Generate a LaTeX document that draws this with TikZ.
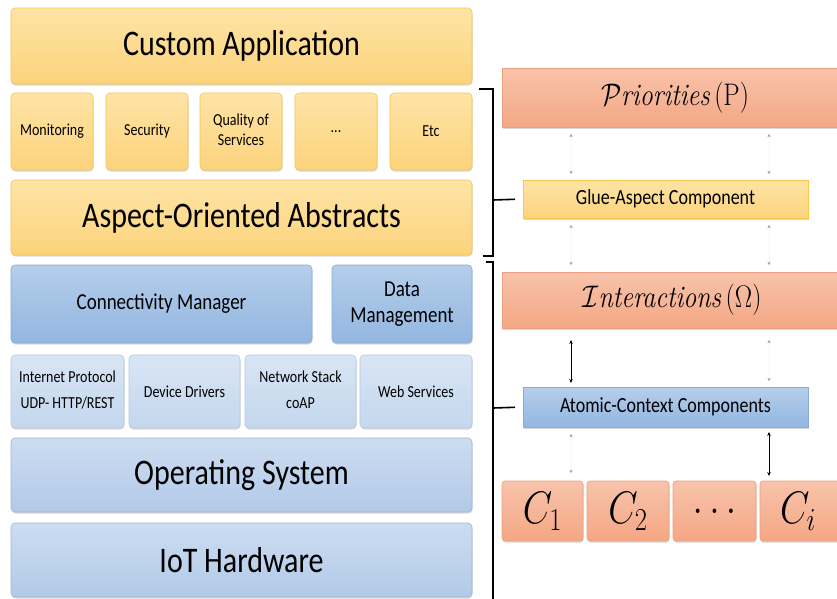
\RequirePackage{fix-cm}
\documentclass[tikz,border=0pt]{standalone}
\usepackage{fontspec}
\newfontfamily\calib{Carlito}
\usetikzlibrary{shadows,arrows.meta}

% palette
\definecolor{ytop}{HTML}{FEE4A6}
\definecolor{ybot}{HTML}{FCD37C}
\definecolor{yline}{HTML}{F7C64A}
\definecolor{stop}{HTML}{F8C3AB}
\definecolor{sbot}{HTML}{F4A784}
\definecolor{sline}{HTML}{E9A080}
\definecolor{btop}{HTML}{B5CEEB}
\definecolor{bbot}{HTML}{93B6E0}
\definecolor{bline}{HTML}{86ACD9}
\definecolor{ltop}{HTML}{D8E5F4}
\definecolor{lbot}{HTML}{C4D7EE}
\definecolor{lline}{HTML}{B3C9E4}
\definecolor{otop}{HTML}{CCDDF1}
\definecolor{obot}{HTML}{B2C9E8}
\definecolor{oline}{HTML}{9DB6D6}

% slightly stretched lettering
\newcommand\tall[1]{\scalebox{1}[1.2]{#1}}
\newcommand\twoline[2]{\begin{tabular}{@{}c@{}}#1\\#2\end{tabular}}
% box from its corners: name, style, x1, y1, x2, y2, text
\newcommand\blk[7]{\node[#2, minimum width={#5-#3}, minimum height={#6-#4}] (#1) at ({(#3+#5)/2},{(#4+#6)/2}) {#7};}

\tikzset{
  layer/.style={draw, rectangle, rounded corners=4, inner sep=0pt, outer sep=0pt,
    line width=0.6pt, text=black,
    drop shadow={shadow xshift=0.5pt, shadow yshift=-1.5pt, opacity=0.3}},
  yel/.style={layer, top color=ytop, bottom color=ybot, draw=yline},
  blu/.style={layer, top color=btop, bottom color=bbot, draw=bline},
  lblu/.style={layer, top color=ltop, bottom color=lbot, draw=lline},
  oblu/.style={layer, top color=otop, bottom color=obot, draw=oline},
  sal/.style={layer, top color=stop, bottom color=sbot, draw=sline},
  flat/.style={rounded corners=0},
  big/.style={font=\calib\fontsize{30}{36}\selectfont},
  mid/.style={font=\calib\fontsize{19}{22}\selectfont},
  small/.style={font=\calib\fontsize{14}{17}\selectfont},
  lbl/.style={font=\calib\fontsize{18}{21}\selectfont},
  scr/.style={font=\fontsize{26}{30}\selectfont},
  cee/.style={font=\fontsize{38}{42}\selectfont},
  solidarr/.style={{Stealth[length=4pt,width=3.5pt]}-{Stealth[length=4pt,width=3.5pt]}, line width=0.7pt},
  faintarr/.style={draw=black!3, line width=0.3pt,
    {Stealth[length=3pt,width=3pt,black!40]}-{Stealth[length=3pt,width=3pt,black!40]}},
  bracket/.style={line width=1.6pt, line cap=butt}
}

\begin{document}
\begin{tikzpicture}[x=1pt, y=-1pt]
\useasboundingbox (0,0) rectangle (837,598);
\clip (0,0) rectangle (837,598);
\fill[white] (0,0) rectangle (837,598);

% ---------- layered architecture ----------
\blk{app}{yel,big}{11}{8}{472}{84}{\tall{Custom Application}}
\blk{mon}{yel,small}{11}{93}{93}{170}{\tall{Monitoring}}
\blk{sec}{yel,small}{106}{93}{188}{170}{\tall{Security}}
\blk{qos}{yel,small}{200}{93}{282}{170}{\tall{\twoline{Quality of}{Services}}}
\blk{more}{yel,small}{295}{93}{377}{170}{\tall{...}}
\blk{etc}{yel,small}{390}{93}{472}{170}{\tall{Etc}}
\blk{aoa}{yel,big}{11}{180}{472}{255}{\tall{Aspect-Oriented Abstracts}}

\blk{conn}{blu,mid}{11}{265}{312}{343}{\tall{Connectivity Manager}}
\blk{data}{blu,mid}{332}{265}{472}{343}{\tall{\twoline{Data}{Management}}}

\blk{ip}{lblu,small}{11}{355}{124}{428}{\tall{\begin{tabular}{@{}c@{}}Internet Protocol\\[5pt]UDP- HTTP/REST\end{tabular}}}
\blk{dd}{lblu,small}{129}{355}{240}{428}{\tall{Device Drivers}}
\blk{ns}{lblu,small}{245}{355}{356}{428}{\tall{\begin{tabular}{@{}c@{}}Network Stack\\[5pt]coAP\end{tabular}}}
\blk{ws}{lblu,small}{360}{355}{472}{428}{\tall{Web Services}}

\blk{os}{oblu,big}{11}{438}{472}{512}{\tall{Operating System}}
\blk{hw}{oblu,big}{11}{523}{472}{597}{\tall{IoT Hardware}}

% ---------- aspect / context model ----------
\blk{prio}{sal,flat,scr}{502}{68}{850}{127}{\hspace*{-2pt}\tall{$\mathcal{P}$\textit{riorities}\,(P)}}
\blk{glue}{yel,flat,lbl}{523}{180}{808}{218}{\tall{Glue-Aspect Component}}
\blk{inter}{sal,flat,scr}{502}{272}{850}{328}{\hspace*{-8pt}\tall{$\mathcal{I}$\textit{nteractions}\,($\Omega$)}}
\blk{atom}{blu,flat,lbl}{523}{387}{808}{427}{\tall{Atomic-Context Components}}

\blk{c1}{sal,cee,rounded corners=3}{502}{481}{583}{541}{\tall{$C_1$}}
\blk{c2}{sal,cee,rounded corners=3}{587}{481}{669}{541}{\tall{$C_2$}}
\blk{cd}{sal,cee,rounded corners=3}{673}{481}{756}{541}{\tall{$\ldots$}}
\blk{ci}{sal,cee,rounded corners=3}{760}{481}{850}{541}{\hspace*{-14pt}\tall{$C_i$}}

% columns of the links
\coordinate (colL) at (571,0);
\coordinate (colR) at (769,0);

\draw[faintarr, shorten <=7pt, shorten >=6pt] (prio.south -| colL) -- (glue.north -| colL);
\draw[faintarr, shorten <=7pt, shorten >=6pt] (prio.south -| colR) -- (glue.north -| colR);
\draw[faintarr, shorten <=7pt, shorten >=7pt] (glue.south -| colL) -- (inter.north -| colL);
\draw[faintarr, shorten <=7pt, shorten >=7pt] (glue.south -| colR) -- (inter.north -| colR);

\draw[solidarr, shorten <=12pt, shorten >=4pt] (inter.south -| colL) -- (atom.north -| colL);
\draw[faintarr, shorten <=12pt, shorten >=6pt] (inter.south -| colR) -- (atom.north -| colR);

\draw[faintarr, shorten <=7pt, shorten >=8pt] (atom.south -| colL) -- (c1.north -| colL);
\draw[solidarr, shorten <=5pt, shorten >=5pt] (atom.south -| colR) -- (ci.north -| colR);

% brackets grouping the layers
\coordinate (b1top) at (479,89);
\coordinate (b1bot) at (483,256);
\coordinate (b1mid) at (493,200);
\coordinate (b2top) at (486,262);
\coordinate (b2bot) at (493,600);
\coordinate (b2mid) at (493,408);
\draw[bracket] (b1top) -- (493,89) -- (493,256) -- (b1bot);
\draw[bracket, shorten >=8pt] (b1mid) -- (glue.west);
\draw[bracket] (b2top) -- (493,262) -- (b2bot);
\draw[bracket, shorten >=8pt] (b2mid) -- (atom.west);
\end{tikzpicture}
\end{document}
